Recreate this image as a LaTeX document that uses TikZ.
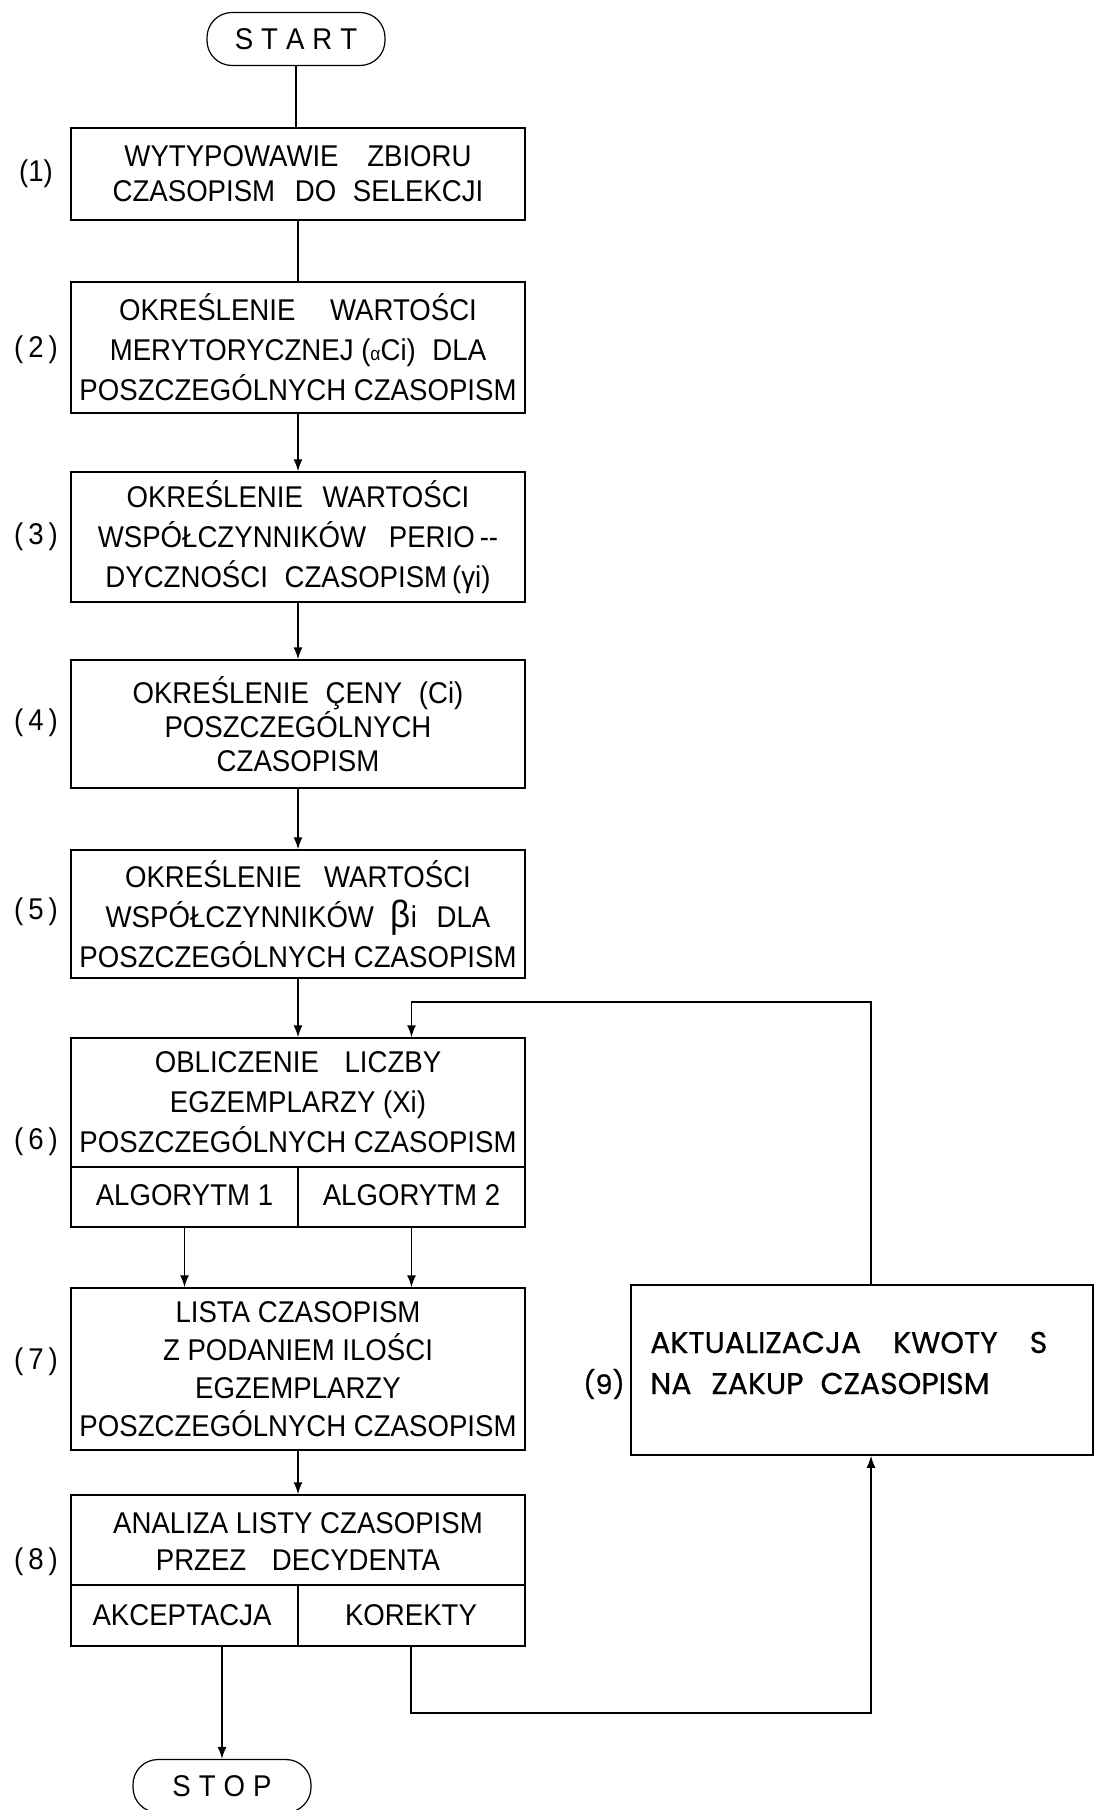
\documentclass[tikz,border=0pt]{standalone}
\usepackage{fontspec}
\setmainfont{Liberation Sans}
\newfontfamily\tw[FakeStretch=0.92]{Liberation Sans}
\newfontfamily\gf[FakeBold=0.6]{Poppins}
\usetikzlibrary{arrows.meta,calc}
\begin{document}
\begin{tikzpicture}[x=1pt,y=-1pt,
  box/.style={draw,line width=1.5pt,minimum width=454pt,inner sep=0pt,align=center,font=\tw\fontsize{30}{40}\selectfont},
  txt/.style={align=center,inner sep=0pt,font=\tw\fontsize{30}{40}\selectfont},
  lbl/.style={inner sep=0pt,font=\tw\fontsize{30}{30}\selectfont},
  term/.style={draw,line width=1.2pt,rounded corners=25pt,minimum width=178pt,minimum height=53pt,inner sep=0pt,font=\tw\fontsize{30}{30}\selectfont},
  conn/.style={line width=1.5pt},
  arr/.style={line width=1.5pt,-{Latex[length=12pt,width=9pt]}}]
\useasboundingbox[fill=white] (0,0) rectangle (1096,1810);

% terminals
\node[term] (st0) at (296,39) {S\hspace{8pt}T\hspace{8pt}A\hspace{8pt}R\hspace{8pt}T};
\node[term] (st9) at (222,1786) {S\hspace{8pt}T\hspace{8pt}O\hspace{8pt}P};

% main boxes
\node[box,minimum height=92pt,font=\tw\fontsize{30}{35}\selectfont] (b1) at (298,174)
  {WYTYPOWAWIE\hspace{0.7em} ZBIORU\\CZASOPISM\hspace{0.4em} DO\hspace{0.3em} SELEKCJI};
\node[box,minimum height=131pt] (b2) at (298,347.5)
  {OKREŚLENIE\hspace{0.9em} WARTOŚCI\\MERYTORYCZNEJ ({\fontsize{19}{19}\selectfont α}Ci)\hspace{0.3em} DLA\\POSZCZEGÓLNYCH CZASOPISM};
\node[box,minimum height=130pt] (b3) at (298,537)
  {OKREŚLENIE\hspace{0.4em} WARTOŚCI\\WSPÓŁCZYNNIKÓW\hspace{0.5em} PERIO\,--\\DYCZNOŚCI\hspace{0.3em} CZASOPISM\,(γi)};
\node[box,minimum height=128pt,font=\tw\fontsize{30}{34}\selectfont] (b4) at (298,724)
  {OKREŚLENIE\hspace{0.3em} ÇENY\hspace{0.3em} (Ci)\\POSZCZEGÓLNYCH\\CZASOPISM};
\node[box,minimum height=128pt] (b5) at (298,914)
  {OKREŚLENIE\hspace{0.5em} WARTOŚCI\\WSPÓŁCZYNNIKÓW\hspace{0.3em} {\fontsize{38}{38}\selectfont β}i\hspace{0.4em} DLA\\POSZCZEGÓLNYCH CZASOPISM};

% box 6 with two cells
\node[box,minimum height=189pt] (b6) at (298,1132.5) {};
\coordinate (d6) at (0,1167);
\draw[conn] (b6.west |- d6) -- (b6.east |- d6);
\draw[conn] (b6.center |- d6) -- (b6.south);
\node[txt] (t6) at (298,1102) {OBLICZENIE\hspace{0.6em} LICZBY\\EGZEMPLARZY (Xi)\\POSZCZEGÓLNYCH CZASOPISM};
\node[txt] (a1) at (184.5,1195) {ALGORYTM 1};
\node[txt] (a2) at (411.5,1195) {ALGORYTM 2};

\node[box,minimum height=162pt,font=\tw\fontsize{30}{38}\selectfont] (b7) at (298,1369)
  {LISTA CZASOPISM\\Z PODANIEM ILOŚCI\\EGZEMPLARZY\\POSZCZEGÓLNYCH CZASOPISM};

% box 8 with two cells
\node[box,minimum height=151pt] (b8) at (298,1570.5) {};
\coordinate (d8) at (0,1585);
\draw[conn] (b8.west |- d8) -- (b8.east |- d8);
\draw[conn] (b8.center |- d8) -- (b8.south);
\node[txt,font=\tw\fontsize{30}{37}\selectfont] (t8) at (298,1542) {ANALIZA LISTY CZASOPISM\\PRZEZ\hspace{0.6em} DECYDENTA};
\node[txt] (k1) at (182,1615) {AKCEPTACJA};
\node[txt] (k2) at (411,1615) {KOREKTY};

% box 9
\node[draw,line width=1.5pt,minimum width=462pt,minimum height=170pt,inner sep=0pt] (b9) at (862,1370) {};
\node[anchor=west,align=left,inner sep=0pt,font=\gf\fontsize{30}{41}\selectfont] (t9) at (650,1363)
  {AKTUALIZACJA\hspace{0.8em} KWOTY\hspace{0.8em} S\\NA\hspace{0.4em} ZAKUP\hspace{0.3em} CZASOPISM};

% labels
\node[lbl] (l1) at (36,174) {(1)};
\node[lbl] (l2) at (36,350) {(\,2\,)};
\node[lbl] (l3) at (36,537) {(\,3\,)};
\node[lbl] (l4) at (36,723) {(\,4\,)};
\node[lbl] (l5) at (36,912) {(\,5\,)};
\node[lbl] (l6) at (36,1142) {(\,6\,)};
\node[lbl] (l7) at (36,1362) {(\,7\,)};
\node[lbl] (l8) at (36,1562) {(\,8\,)};
\node[inner sep=0pt,font=\gf\fontsize{27}{27}\selectfont] (l9) at (604,1384) {(9)};

% connectors
\draw[conn] (st0.south) -- (st0.south |- b1.north);
\draw[conn] (b1.south) -- (b2.north);
\draw[arr] (b2.south) -- (b3.north);
\draw[arr] (b3.south) -- (b4.north);
\draw[arr] (b4.south) -- (b5.north);
\draw[arr] (b5.south) -- (b6.north);
\draw[arr] (a1 |- b6.south) -- (a1 |- b7.north);
\draw[arr] (a2 |- b6.south) -- (a2 |- b7.north);
\draw[arr] (b7.south) -- (b8.north);
\draw[arr] (st9.north |- b8.south) -- (st9.north);
\coordinate (c9) at (871,0);
\coordinate (fb1) at (0,1713);
\coordinate (fb2) at (0,1002);
\draw[arr] (k2 |- b8.south) -- (k2 |- fb1) -- (c9 |- fb1) -- (c9 |- b9.south);
\draw[arr] (c9 |- b9.north) -- (c9 |- fb2) -- (a2 |- fb2) -- (a2 |- b6.north);
\end{tikzpicture}
\end{document}
